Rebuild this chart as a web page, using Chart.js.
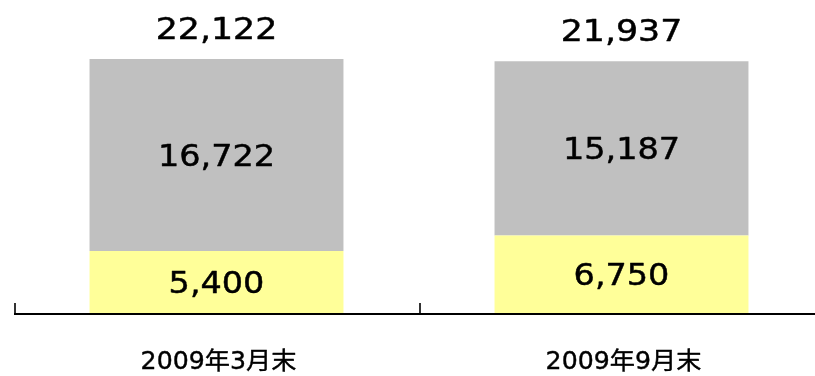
<!DOCTYPE html>
<html>
<head>
<meta charset="utf-8">
<script src="https://cdn.jsdelivr.net/npm/chart.js@4/dist/chart.umd.min.js"></script>
<style>
  html, body { margin: 0; padding: 0; background: #fff; overflow: hidden; }
  #wrap { width: 830px; height: 376px; }
</style>
</head>
<body>
<div id="wrap"><canvas id="c" width="830" height="376"></canvas></div>
<script>
// Period-end categories and the two stacked components
const categories = ['2009年3月末', '2009年9月末'];
const lowerValues = [5400, 6750];
const upperValues = [16722, 15187];
const totalValues = [22122, 21937];

const lowerColor = '#FFFF99';
const upperColor = '#C0C0C0';
const valueFont = '31px "DejaVu Sans", "Noto Sans CJK JP", sans-serif';
const catFont = '24px "DejaVu Sans", "Noto Sans CJK JP", sans-serif';

const fmt = v => v.toLocaleString('en-US');

// Draw text centered at x with a horizontal stretch factor and a slight stroke for weight
function stretchedText(ctx, text, x, y, sx, weight) {
  ctx.save();
  ctx.translate(x, y);
  ctx.scale(sx, 1);
  ctx.textAlign = 'center';
  ctx.textBaseline = 'alphabetic';
  ctx.fillText(text, 0, 0);
  if (weight) {
    ctx.lineWidth = weight;
    ctx.strokeStyle = ctx.fillStyle;
    ctx.lineJoin = 'round';
    ctx.strokeText(text, 0, 0);
  }
  ctx.restore();
}

const overlay = {
  id: 'overlay',
  afterDatasetsDraw(chart) {
    const ctx = chart.ctx;
    const xs = chart.scales.x;
    const area = chart.chartArea;
    const lower = chart.getDatasetMeta(0).data;
    const upper = chart.getDatasetMeta(1).data;

    ctx.save();
    ctx.fillStyle = '#000';

    // segment values, centered in each segment
    ctx.font = valueFont;
    lower.forEach((bar, i) => {
      const mid = (bar.y + bar.base) / 2;
      stretchedText(ctx, fmt(lowerValues[i]), bar.x, mid + 11, 1.08, 0.5);
    });
    upper.forEach((bar, i) => {
      const mid = (bar.y + bar.base) / 2;
      stretchedText(ctx, fmt(upperValues[i]), bar.x, mid + 11, 1.08, 0.5);
      // total above the stack
      stretchedText(ctx, fmt(totalValues[i]), bar.x, bar.y - 20, 1.12, 0.5);
    });

    // baseline axis with upward ticks at category boundaries
    const yAxis = area.bottom;
    ctx.strokeStyle = '#000';
    ctx.lineWidth = 2;
    ctx.beginPath();
    ctx.moveTo(area.left, yAxis + 1);
    ctx.lineTo(area.right, yAxis + 1);
    ctx.stroke();

    const step = xs.getPixelForValue(1) - xs.getPixelForValue(0);
    ctx.lineWidth = 1.6;
    ctx.beginPath();
    for (let i = 0; i < categories.length; i++) {
      const bx = Math.round(xs.getPixelForValue(i) - step / 2) + 1;
      ctx.moveTo(bx, yAxis + 1);
      ctx.lineTo(bx, yAxis - 10);
    }
    ctx.stroke();

    // category labels
    ctx.font = catFont;
    categories.forEach((c, i) => {
      stretchedText(ctx, c, xs.getPixelForValue(i) + 2, yAxis + 56, 1.05, 0.4);
    });
    ctx.restore();
  }
};

new Chart(document.getElementById('c'), {
  type: 'bar',
  data: {
    labels: categories,
    datasets: [
      { data: lowerValues, backgroundColor: lowerColor, borderWidth: 0 },
      { data: upperValues, backgroundColor: upperColor, borderWidth: 0 }
    ]
  },
  options: {
    responsive: false,
    animation: false,
    events: [],
    layout: { padding: { left: 14, right: 6, top: 3, bottom: 63 } },
    datasets: { bar: { barPercentage: 0.627, categoryPercentage: 1 } },
    plugins: { legend: { display: false }, tooltip: { enabled: false } },
    scales: {
      x: { stacked: true, display: false },
      y: { stacked: true, display: false, min: 0, max: 27000 }
    }
  },
  plugins: [overlay]
});
</script>
</body>
</html>
